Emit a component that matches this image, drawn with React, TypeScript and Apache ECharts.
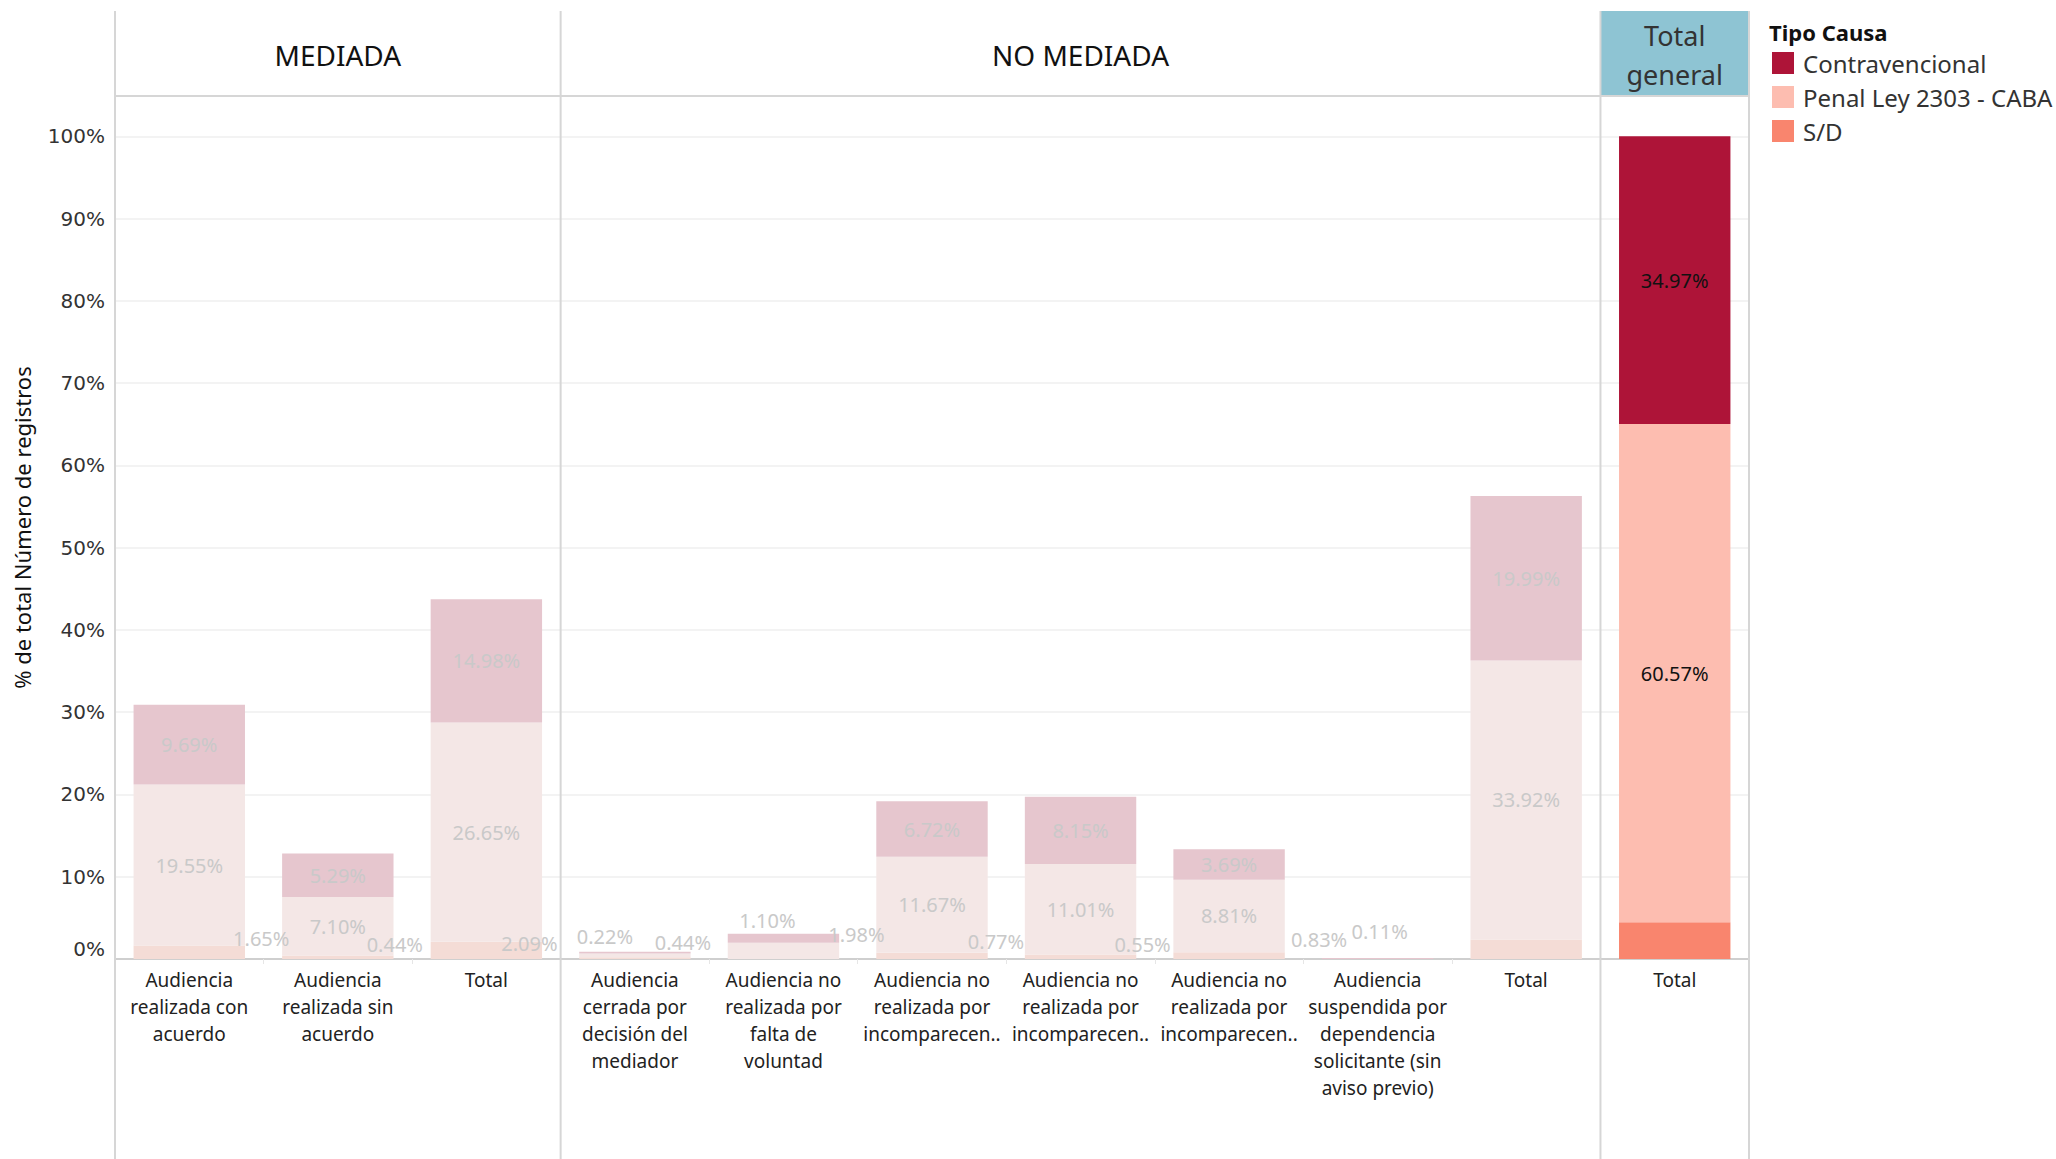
import React, { useEffect, useRef } from 'react';
import * as echarts from 'echarts';

// ---------- data ----------
const categories = [
  'Audiencia\nrealizada con\nacuerdo',
  'Audiencia\nrealizada sin\nacuerdo',
  'Total',
  'Audiencia\ncerrada por\ndecisión del\nmediador',
  'Audiencia no\nrealizada por\nfalta de\nvoluntad',
  'Audiencia no\nrealizada por\nincomparecen..',
  'Audiencia no\nrealizada por\nincomparecen..',
  'Audiencia no\nrealizada por\nincomparecen..',
  'Audiencia\nsuspendida por\ndependencia\nsolicitante (sin\naviso previo)',
  'Total',
  'Total',
];
const paneTitles = ['MEDIADA', 'NO MEDIADA', 'Total\ngeneral'];
const paneSizes = [3, 7, 1];
const seriesNames = ['Contravencional', 'Penal Ley 2303 - CABA', 'S/D'];
const contravencional = [9.69, 5.29, 14.98, 0.22, 1.1, 6.72, 8.15, 3.69, 0.11, 19.99, 34.97];
const penal = [19.55, 7.1, 26.65, 0.44, 1.98, 11.67, 11.01, 8.81, 0, 33.92, 60.57];
const sinDato = [1.65, 0.44, 2.09, 0.22, 0, 0.77, 0.55, 0.83, 0, 2.37, 4.46];
const legendTitle = 'Tipo Causa';
const yAxisTitle = '% de total Número de registros';
const highlightedIndex = 10;

// ---------- styles / layout ----------
const fullColors = ['#AE1438', '#FDBDB0', '#F9856E'];
const fadedColors = ['#E6C6CE', '#F4E7E6', '#F4DCD6'];
const FONT = "'Noto Sans', 'Open Sans', sans-serif";

// label offsets for small segments (px, relative to segment centre); undefined => centred
const labelOffsets: Record<string, Record<number, [number, number]>> = {
  Contravencional: { 3: [-30, -16], 4: [-16, -18], 8: [2, -27] },
  'Penal Ley 2303 - CABA': { 3: [48, -13], 4: [73, -16] },
  'S/D': { 0: [72, -14], 1: [57, -13], 2: [43, -7], 5: [64, -14], 6: [62, -12], 7: [90, -16] },
};
const showAllLabels: Record<string, boolean> = {
  Contravencional: true,
  'Penal Ley 2303 - CABA': true,
  'S/D': false,
};

export default function App() {
  const ref = useRef<HTMLDivElement>(null);

  useEffect(() => {
    const chart = echarts.init(ref.current!, null, { renderer: 'svg' });
    const left = 115;
    const right = 1749;
    const top = 96;
    const bottom = 959;
    const headerTop = 11;
    const H = 1159;
    const colW = (right - left) / categories.length;

    const makeSeries = (idx: number, values: number[]) => {
      const name = seriesNames[idx];
      return {
        type: 'bar',
        name,
        stack: 'total',
        barWidth: '75%',
        silent: true,
        emphasis: { disabled: true },
        itemStyle: { color: fullColors[idx] },
        label: {
          fontSize: 20,
          fontFamily: FONT,
          formatter: (p: any) => Number(p.value).toFixed(2) + '%',
        },
        data: values.map((v, i) => {
          const off = labelOffsets[name][i];
          const show = v > 0 && (showAllLabels[name] || off !== undefined) && !(idx === 2 && i >= 9);
          const hl = i === highlightedIndex;
          return {
            value: v,
            itemStyle: { color: hl ? fullColors[idx] : fadedColors[idx] },
            label: {
              show,
              position: 'inside',
              offset: off || [0, 0],
              color: hl ? '#111' : '#c9c9c9',
            },
          };
        }),
      };
    };

    // panes
    const graphics: any[] = [];
    let acc = 0;
    const sepXs: number[] = [left];
    paneSizes.forEach((n, p) => {
      const x0 = left + acc * colW;
      const x1 = left + (acc + n) * colW;
      sepXs.push(x1);
      const isTotal = p === paneTitles.length - 1;
      if (isTotal) {
        graphics.push({
          type: 'rect',
          shape: { x: x0, y: headerTop, width: x1 - x0, height: top - headerTop },
          style: { fill: '#8EC4D3' },
          z: 1,
        });
      }
      graphics.push({
        type: 'text',
        z: 5,
        style: {
          text: paneTitles[p],
          x: (x0 + x1) / 2,
          y: 55,
          textAlign: 'center',
          textVerticalAlign: 'middle',
          align: 'center',
          verticalAlign: 'middle',
          fontSize: isTotal ? 27 : 28,
          lineHeight: 39,
          fontFamily: FONT,
          fill: isTotal ? '#333' : '#111',
        },
      });
      acc += n;
    });
    sepXs.forEach((x) => {
      graphics.push({
        type: 'line',
        z: 4,
        shape: { x1: x, y1: headerTop, x2: x, y2: H },
        style: { stroke: '#d6d6d6', lineWidth: 2 },
      });
    });
    graphics.push({
      type: 'line',
      z: 4,
      shape: { x1: left, y1: top, x2: right, y2: top },
      style: { stroke: '#d6d6d6', lineWidth: 2 },
    });
    graphics.push({
      type: 'text',
      z: 5,
      style: {
        text: legendTitle,
        x: 1769,
        y: 32,
        textAlign: 'left',
        textVerticalAlign: 'middle',
        align: 'left',
        verticalAlign: 'middle',
        fontSize: 22,
        fontWeight: 'bold',
        fontFamily: FONT,
        fill: '#111',
      },
    });

    const option: any = {
      animation: false,
      backgroundColor: '#fff',
      grid: {
        left,
        right: 2056 - right,
        top,
        bottom: H - bottom,
        containLabel: false,
        outerBoundsMode: 'none',
      },
      legend: {
        data: seriesNames,
        orient: 'vertical',
        left: 1772,
        top: 51,
        padding: 0,
        itemWidth: 22,
        itemHeight: 22,
        itemGap: 10,
        icon: 'rect',
        selectedMode: false,
        textStyle: {
          fontSize: 24,
          fontFamily: FONT,
          color: '#333',
          lineHeight: 22,
          padding: [0, 0, 0, 4],
        },
      },
      xAxis: {
        type: 'category',
        data: categories,
        axisLine: { show: true, lineStyle: { color: '#cfcfcf', width: 2 } },
        axisTick: { show: true, length: 5, lineStyle: { color: '#e6e6e6' } },
        axisLabel: {
          interval: 0,
          fontSize: 19,
          lineHeight: 27,
          margin: 7,
          color: '#222',
          fontFamily: FONT,
        },
        splitLine: { show: false },
      },
      yAxis: {
        type: 'value',
        min: 0,
        max: 104.9,
        interval: 10,
        axisLine: { show: false },
        axisTick: { show: false },
        splitLine: { show: true, lineStyle: { color: '#efefef', width: 1.5 } },
        axisLabel: {
          formatter: (v: number) => (Math.abs(v % 10) < 1e-6 ? v + '%' : ''),
          fontSize: 20,
          fontFamily: "'DejaVu Sans', sans-serif",
          color: '#333',
          margin: 10,
          showMaxLabel: false,
          verticalAlignMinLabel: 'bottom',
        },
        name: yAxisTitle,
        nameLocation: 'middle',
        nameGap: 82,
        nameRotate: 90,
        nameTextStyle: { fontSize: 22, fontFamily: FONT, color: '#111' },
      },
      series: [makeSeries(2, sinDato), makeSeries(1, penal), makeSeries(0, contravencional)],
      graphic: graphics,
    };

    chart.setOption(option);
    return () => chart.dispose();
  }, []);

  return (
    <div
      ref={ref}
      style={{ position: 'fixed', left: 0, top: 0, width: 2056, height: 1159, background: '#fff' }}
    />
  );
}
